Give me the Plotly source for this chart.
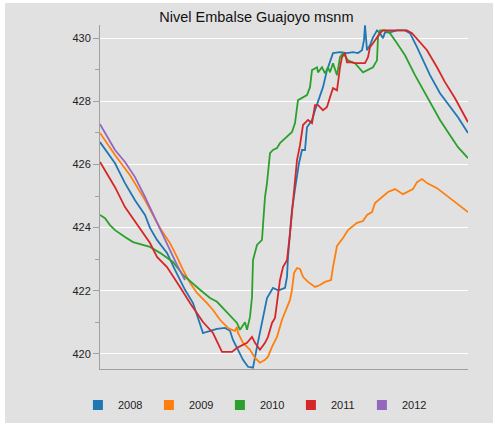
import plotly.graph_objects as go

# Nivel del embalse (msnm) por dia del anio
dia_2008 = [0, 15, 25, 35, 45, 50, 57, 67, 75, 85, 93, 100, 103, 107, 117, 125, 130, 133, 138,
            143, 148, 153, 157, 160, 163, 167, 170, 173, 177, 180, 185, 187, 188, 190, 192, 195,
            199, 202, 205, 207, 212, 215, 218, 223, 227, 230, 233, 240, 247, 253, 258, 262, 264,
            265, 267, 270, 273, 277, 280, 283, 285, 290, 297, 305, 310, 317, 323, 330, 340, 350,
            358, 368]
nivel_2008 = [426.71, 426.04, 425.41, 424.87, 424.40, 423.99, 423.61, 423.20, 422.66, 422.03,
              421.61, 420.92, 420.66, 420.70, 420.79, 420.82, 420.73, 420.44, 420.13, 419.81,
              419.59, 419.56, 420.22, 420.66, 421.17, 421.77, 421.93, 422.09, 422.03, 422.03,
              422.09, 422.44, 423.07, 423.83, 424.56, 425.22, 426.04, 426.46, 426.46, 427.18,
              427.41, 427.72, 427.97, 428.45, 428.99, 429.30, 429.53, 429.56, 429.53, 429.56,
              429.53, 429.62, 429.94, 430.41, 429.62, 429.78, 430.03, 430.25, 430.16, 430.00,
              430.19, 430.19, 430.25, 430.25, 430.16, 429.72, 429.30, 428.83, 428.26, 427.82,
              427.50, 427.00]

dia_2009 = [0, 15, 30, 45, 60, 70, 77, 83, 90, 97, 107, 113, 120, 128, 132, 135, 137, 138, 143,
            150, 155, 160, 165, 168, 172, 177, 182, 187, 190, 192, 194, 197, 200, 203, 208, 215,
            220, 225, 231, 233, 237, 243, 248, 257, 263, 267, 272, 275, 280, 288, 295, 303, 313,
            317, 322, 327, 337, 347, 357, 368]
nivel_2009 = [427.00, 426.30, 425.66, 424.87, 423.99, 423.51, 423.07, 422.66, 422.25, 421.93,
              421.61, 421.39, 421.08, 420.82, 420.76, 420.73, 420.85, 420.66, 420.35, 420.13,
              419.87, 419.72, 419.81, 419.91, 420.22, 420.54, 421.08, 421.49, 421.71, 422.03,
              422.56, 422.72, 422.69, 422.44, 422.28, 422.12, 422.18, 422.28, 422.34, 422.75,
              423.42, 423.67, 423.92, 424.15, 424.21, 424.40, 424.49, 424.78, 424.91, 425.13,
              425.22, 425.06, 425.22, 425.44, 425.54, 425.41, 425.25, 425.00, 424.78, 424.49]

dia_2010 = [0, 5, 10, 15, 25, 33, 50, 60, 73, 83, 100, 110, 117, 127, 137, 140, 143, 145, 147,
            148, 150, 152, 153, 157, 162, 163, 165, 167, 168, 170, 173, 177, 180, 183, 188, 192,
            195, 198, 207, 210, 212, 217, 218, 222, 225, 228, 230, 233, 237, 240, 243, 248, 255,
            263, 273, 277, 278, 280, 285, 290, 297, 305, 315, 325, 332, 340, 350, 358, 368]
nivel_2010 = [424.40, 424.30, 424.08, 423.92, 423.70, 423.54, 423.39, 423.20, 422.91, 422.50,
              422.03, 421.77, 421.65, 421.33, 420.98, 420.76, 420.92, 421.00, 420.76, 420.92,
              421.17, 421.80, 422.97, 423.45, 423.61, 424.08, 424.97, 425.41, 425.82, 426.36,
              426.46, 426.52, 426.68, 426.77, 426.93, 427.03, 427.31, 428.04, 428.20, 428.45,
              428.99, 429.08, 428.92, 429.08, 428.89, 429.08, 428.92, 429.21, 428.83, 429.40,
              429.53, 429.30, 429.21, 428.92, 429.08, 429.30, 430.03, 430.25, 430.25, 430.16,
              429.84, 429.46, 428.83, 428.26, 427.88, 427.41, 426.93, 426.55, 426.20]

dia_2011 = [0, 15, 25, 40, 50, 57, 67, 80, 90, 103, 113, 122, 132, 137, 142, 147, 152, 155, 160,
            165, 168, 172, 175, 177, 180, 183, 187, 190, 193, 197, 200, 203, 208, 212, 215, 218,
            223, 227, 230, 233, 237, 238, 240, 242, 245, 247, 250, 255, 260, 265, 268, 270, 273,
            277, 280, 283, 290, 307, 312, 318, 327, 337, 345, 355, 363, 368]
nivel_2011 = [426.08, 425.28, 424.65, 423.99, 423.51, 423.07, 422.75, 422.12, 421.61, 421.01,
              420.66, 420.06, 420.06, 420.19, 420.28, 420.35, 420.54, 420.35, 420.13, 420.35,
              420.54, 420.98, 421.14, 421.61, 422.34, 422.75, 422.97, 423.83, 424.87, 426.14,
              426.61, 427.25, 427.41, 427.31, 427.88, 427.88, 427.72, 427.82, 428.13, 428.42,
              428.35, 428.67, 429.08, 429.40, 429.53, 429.24, 429.24, 429.21, 429.21, 429.21,
              429.40, 429.72, 429.84, 430.03, 430.16, 430.25, 430.25, 430.25, 430.16, 429.94,
              429.62, 429.08, 428.61, 428.10, 427.66, 427.34]

dia_2012 = [0, 15, 25, 35, 45, 60, 70, 77, 85]
nivel_2012 = [427.28, 426.46, 426.08, 425.60, 424.97, 423.99, 423.29, 422.82, 422.34]

anios = ["2008", "2009", "2010", "2011", "2012"]
colores = ["#1f77b4", "#ff7f0e", "#2ca02c", "#d62728", "#9467bd"]
series = [(dia_2008, nivel_2008), (dia_2009, nivel_2009), (dia_2010, nivel_2010),
          (dia_2011, nivel_2011), (dia_2012, nivel_2012)]

fig = go.Figure()
for anio, color, (x, y) in zip(anios, colores, series):
    fig.add_trace(go.Scatter(x=x, y=y, mode="lines", name=anio, showlegend=False,
                             line=dict(color=color, width=1.8)))
# entradas de leyenda con cuadrados
for anio, color in zip(anios, colores):
    fig.add_trace(go.Scatter(x=[None], y=[None], mode="markers", name=anio,
                             marker=dict(symbol="square", size=10, color=color)))

fig.update_layout(
    width=495, height=426,
    margin=dict(l=100, r=27, t=25, b=57, autoexpand=False),
    paper_bgcolor="white",
    plot_bgcolor="rgba(0,0,0,0)",
    font=dict(family="Liberation Sans, Arial, sans-serif", size=11, color="#222"),
    title=dict(text="Nivel Embalse Guajoyo msnm", x=0.518, xref="container",
               y=0.96, yref="container", xanchor="center", yanchor="middle",
               font=dict(size=14.5, color="#111")),
    showlegend=True,
    legend=dict(orientation="h", x=-0.06, y=-0.105, xanchor="left", yanchor="middle",
                entrywidth=26, entrywidthmode="pixels", bgcolor="rgba(0,0,0,0)",
                font=dict(size=11, color="#222")),
    shapes=[dict(type="rect", xref="paper", yref="paper", x0=-0.258, x1=1.068,
                 y0=-0.157, y1=1.064, fillcolor="#e1e1e1", line=dict(width=0),
                 layer="below")],
)
fig.update_xaxes(range=[0, 368], showgrid=False, zeroline=False, showticklabels=False,
                 ticks="", showline=True, linecolor="#a0a0a0", linewidth=1, automargin=False)
fig.update_yaxes(range=[419.52, 430.42], tickvals=[420, 422, 424, 426, 428, 430],
                 ticks="outside", ticklen=6, tickcolor="#a0a0a0", showline=True,
                 linecolor="#a0a0a0", linewidth=1, gridcolor="white", gridwidth=1,
                 zeroline=False, automargin=False,
                 minor=dict(tickvals=[421, 423, 425, 427, 429], ticks="outside",
                            ticklen=4, tickcolor="#a0a0a0", showgrid=False))

# sin margen del body para que la figura ocupe la ventana completa
fig.write_html("out.html", config={"displayModeBar": False},
               post_script="document.body.style.margin='0px';")
